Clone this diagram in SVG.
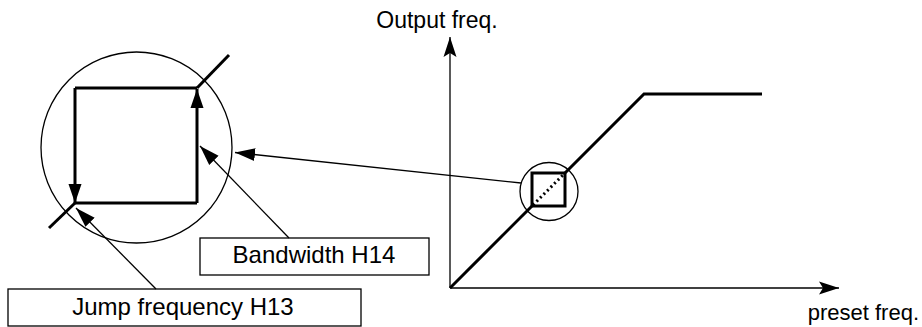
<svg xmlns="http://www.w3.org/2000/svg" width="922" height="327" viewBox="0 0 922 327">
<style>
.t{font-family:"Liberation Sans",Arial,sans-serif;font-size:24px;fill:#000}
.thin{fill:none;stroke:#000;stroke-width:1.3}
.thick{fill:none;stroke:#000;stroke-width:3}
.box{fill:#fff;stroke:#000;stroke-width:1.3}
</style>
<defs>
<marker id="ah" markerUnits="userSpaceOnUse" markerWidth="22" markerHeight="16" refX="20" refY="7" orient="auto">
<path d="M0,0.5 L20,7 L0,13.5 z" fill="#000"/>
</marker>
<marker id="ax" markerUnits="userSpaceOnUse" markerWidth="22" markerHeight="16" refX="20" refY="7" orient="auto">
<path d="M0,0.5 L20,7 L0,13.5 L4,7 z" fill="#000"/>
</marker>
<marker id="sq" markerUnits="userSpaceOnUse" markerWidth="22" markerHeight="16" refX="19" refY="7" orient="auto">
<path d="M0,0.5 L19,7 L0,13.5 z" fill="#000"/>
</marker>
</defs>

<g id="axes">
<line class="thin" x1="450" y1="288" x2="450" y2="37" stroke-width="2" marker-end="url(#ax)"/>
<line class="thin" x1="450" y1="288" x2="839" y2="288" stroke-width="2" marker-end="url(#ax)"/>
<text class="t" x="437" y="28" text-anchor="middle" style="font-size:23px">Output freq.</text>
<text class="t" x="919" y="320" text-anchor="end" style="font-size:22px">preset freq.</text>
</g>

<g id="curve">
<polyline class="thick" points="450,288 532,206"/>
<polyline class="thick" points="565,173 644,94 762,94"/>
<line class="thick" x1="533" y1="205" x2="564" y2="174" stroke-dasharray="2,3"/>
</g>

<g id="jump-small">
<circle class="thin" cx="549" cy="191.5" r="29"/>
<rect class="thick" x="532" y="173" width="33" height="33"/>
</g>

<g id="jump-detail">
<circle class="thin" cx="136.5" cy="147.5" r="95.5" stroke-width="1.6"/>
<line class="thick" x1="197" y1="88" x2="229" y2="55" stroke-width="2.6"/>
<line class="thick" x1="75" y1="203" x2="49" y2="228" stroke-width="2.6"/>
<line class="thick" x1="75" y1="88" x2="197" y2="88"/>
<line class="thick" x1="75" y1="203" x2="197" y2="203"/>
<path class="thick" d="M75,88 L75,203" marker-end="url(#sq)"/>
<path class="thick" d="M197,203 L197,89" marker-end="url(#sq)"/>
</g>

<g id="bandwidth-box">
<rect class="box" x="200" y="238" width="229" height="37"/>
<text class="t" x="314" y="263" text-anchor="middle">Bandwidth H14</text>
</g>

<g id="jump-box">
<rect class="box" x="8" y="289" width="353" height="37"/>
<text class="t" x="183" y="315" text-anchor="middle">Jump frequency H13</text>
</g>

<g id="connectors">
<line class="thin" x1="521" y1="183" x2="235" y2="152.5" marker-end="url(#ah)"/>
<line class="thin" x1="289" y1="238" x2="200" y2="146" marker-end="url(#ah)"/>
<line class="thin" x1="156" y1="289" x2="76" y2="208" marker-end="url(#ah)"/>
</g>
</svg>
